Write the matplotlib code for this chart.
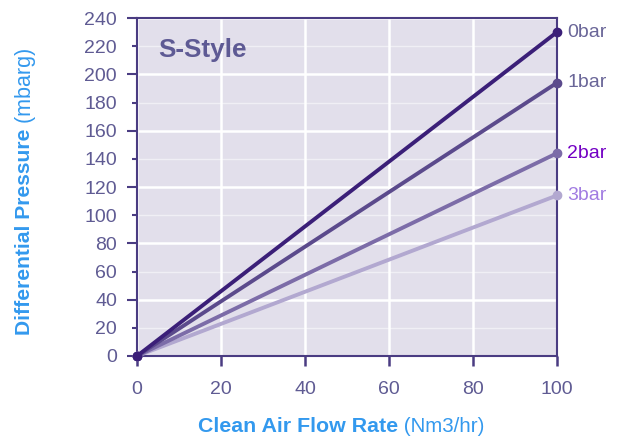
import matplotlib.pyplot as plt
from matplotlib.ticker import MultipleLocator

plt.rcParams['font.family'] = ['Liberation Sans', 'DejaVu Sans']

flow = [0, 100]
series_names = ['0bar', '1bar', '2bar', '3bar']
dp_0bar = [0, 230]
dp_1bar = [0, 194]
dp_2bar = [0, 144]
dp_3bar = [0, 114]

line_colors = ['#3b1f78', '#5b4a8c', '#7c6ca8', '#b2a8d0']
label_colors = ['#6a6698', '#6a6698', '#7300c4', '#a27de2']
tick_color = '#5f5b93'
axis_color = '#4a3c82'
blue = '#3399ee'

fig = plt.figure(figsize=(6.29, 4.37), dpi=100)
ax = fig.add_axes([137 / 629, 1 - 356 / 437, 420 / 629, 338 / 437])
ax.set_facecolor('#e2dfeb')

series = [dp_0bar, dp_1bar, dp_2bar, dp_3bar]
for i, (y, name, lc, tc) in enumerate(zip(series, series_names, line_colors, label_colors)):
    # darker lines drawn on top so the origin looks dark
    ax.plot(flow, y, color=lc, lw=2.8, marker='o', ms=6, solid_capstyle='round',
            zorder=10 - i, clip_on=False)
    ax.text(102.5, y[-1], name, color=tc, fontsize=14, va='center', ha='left')

ax.set_xlim(0, 100)
ax.set_ylim(0, 240)
ax.xaxis.set_major_locator(MultipleLocator(20))
ax.yaxis.set_major_locator(MultipleLocator(40))
ax.yaxis.set_minor_locator(MultipleLocator(20))
ax.yaxis.set_minor_formatter(plt.FuncFormatter(lambda v, p: '%d' % v))

ax.grid(True, which='major', color='white', lw=1.8)
ax.grid(True, which='minor', axis='y', color='white', lw=1.0, alpha=0.5)
ax.set_axisbelow(True)

for s in ax.spines.values():
    s.set_color(axis_color)
    s.set_linewidth(1.5)

ax.tick_params(axis='x', which='major', length=7, width=1.8, color=axis_color,
               labelcolor=tick_color, labelsize=14, pad=11)
ax.tick_params(axis='y', which='major', length=7, width=1.5, color=axis_color,
               labelcolor=tick_color, labelsize=14, pad=7.4)
ax.tick_params(axis='y', which='minor', length=3.5, width=1.5, color=axis_color,
               labelcolor=tick_color, labelsize=14, pad=10.9)

ax.text(5, 217, 'S-Style', color='#5e5a94', fontsize=18.8, fontweight='bold', va='center', ha='left')

# axis titles, bold part + normal part
xt = fig.text(198 / 629, 1 - 426 / 437, 'Clean Air Flow Rate', color=blue, fontsize=15.4,
              fontweight='bold', ha='left', va='center')
ax.annotate(' (Nm3/hr)', xy=(1, 0.5), xycoords=xt, color=blue, fontsize=14.8,
            ha='left', va='center', annotation_clip=False)
yt = fig.text(25 / 629, 1 - 335 / 437, 'Differential Pressure', color=blue, fontsize=15.2,
              fontweight='bold', rotation=90, ha='center', va='bottom')
ax.annotate(' (mbarg)', xy=(0.5, 1), xycoords=yt, color=blue, fontsize=15.5,
            rotation=90, ha='center', va='bottom', annotation_clip=False)

fig.savefig('out.png', dpi=100)
